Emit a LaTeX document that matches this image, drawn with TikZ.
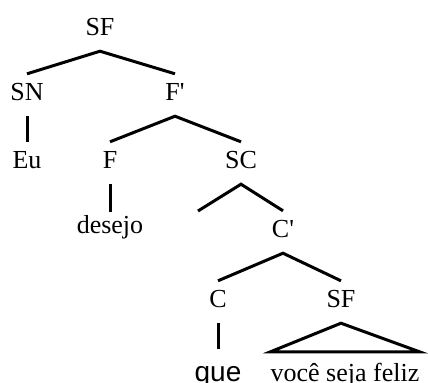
\documentclass[tikz,border=0pt]{standalone}
\usepackage{fontspec}
\setmainfont{Liberation Serif}
\newfontfamily\queface{Liberation Sans}
\newcommand{\pr}{\textquotesingle}
\begin{document}
\begin{tikzpicture}[x=1bp,y=-1bp,
  lbl/.style={anchor=base,inner sep=0pt,text height=26bp,text depth=16bp,
    font=\fontsize{26bp}{30bp}\selectfont},
  leaf/.style={anchor=base,inner sep=0pt,text height=30bp,text depth=0bp,
    font=\fontsize{26bp}{30bp}\selectfont},
  branch/.style={line width=3bp,line cap=butt}]
\useasboundingbox (0,0) rectangle (428,383);
% labels, placed on their baselines
\node[lbl] (sf)   at (100,35)  {SF};
\node[lbl] (sn)   at (27,100)  {SN};
\node[lbl] (fbar) at (175,100) {F\pr};
\node[lbl] (eu)   at (27,168)  {Eu};
\node[lbl] (f)    at (110,168) {F};
\node[lbl] (sc)   at (241,168) {SC};
\node[lbl,text height=21bp] (desejo) at (110,233) {desejo};
\node[lbl] (cbar) at (283,237) {C\pr};
\node[lbl] (c)    at (218,307) {C};
\node[lbl] (sfb)  at (341,307) {SF};
\node[leaf,text height=32bp,font=\queface\fontsize{28bp}{32bp}\selectfont] (que) at (218,381) {que};
\node[leaf,text height=29bp] (frase) at (345,381) {você seja feliz};
% empty specifier slot under SC
\coordinate (spec) at (198,211);
% branches
\draw[branch] (sn.north) -- (sf.south) -- (fbar.north);
\draw[branch] (sn.south) -- (eu.north);
\draw[branch] (f.north) -- (fbar.south) -- (sc.north);
\draw[branch] (f.south) -- (desejo.north);
\draw[branch] (spec) -- (sc.south) -- (cbar.north);
\draw[branch] (c.north) -- (cbar.south) -- (sfb.north);
\draw[branch] (c.south) -- (que.north);
\draw[branch,line join=miter] (sfb.south) -- (frase.north east) -- (frase.north west) -- cycle;
\end{tikzpicture}
\end{document}
